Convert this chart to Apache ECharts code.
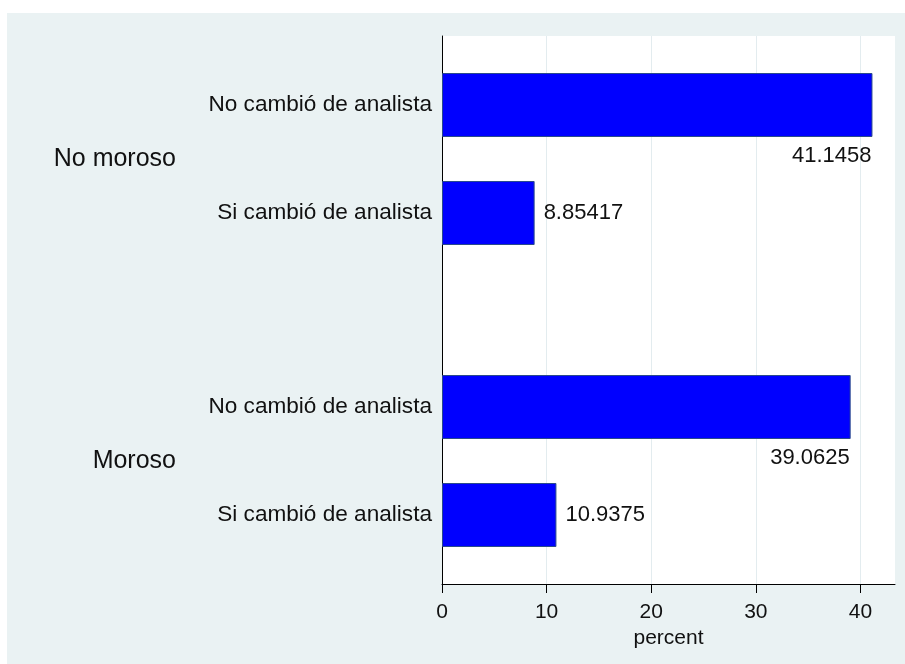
<!DOCTYPE html>
<html>
<head>
<meta charset="utf-8">
<title>percent por grupo</title>
<script src="https://cdn.jsdelivr.net/npm/echarts@6/dist/echarts.min.js"></script>
<style>
  html, body { margin: 0; padding: 0; background: #fff; }
  #chart { width: 905px; height: 664px; }
</style>
</head>
<body>
<div id="chart"></div>
<script>
// datos
var groups = ['No moroso', 'Moroso'];
var categories = ['No cambió de analista', 'Si cambió de analista'];
var noMoroso = [41.1458, 8.85417];
var moroso = [39.0625, 10.9375];
var xTicks = [0, 10, 20, 30, 40];

var font = 'Liberation Sans, Arial, Helvetica, sans-serif';
var xMax = 43.3;
var groupValues = [noMoroso, moroso];
var groupTops = [51, 353];

// etiqueta a la derecha, o debajo si no cabe
function barData(values) {
    return values.map(function (v) {
        var item = { value: v };
        if (v > 35) {
            item.label = {
                position: ['100%', '100%'],
                align: 'right',
                verticalAlign: 'top',
                offset: [-1, 8]
            };
        }
        return item;
    });
}

var grids = [{
    left: 442, top: 36, right: 10, bottom: 80,
    show: true, backgroundColor: '#fff', borderWidth: 0
}];
var xAxes = [{
    gridIndex: 0, type: 'value', min: 0, max: xMax,
    axisLine: { show: true, onZero: false, lineStyle: { color: '#000', width: 1 } },
    axisTick: { show: true, length: 9, customValues: xTicks, lineStyle: { color: '#000' } },
    axisLabel: { customValues: xTicks, color: '#111', fontSize: 21, fontFamily: font, margin: 18 },
    splitLine: { show: true, lineStyle: { color: '#E3ECEF', width: 1 } },
    name: 'percent', nameLocation: 'middle', nameGap: 37,
    nameTextStyle: { color: '#111', fontSize: 21, fontFamily: font }
}];
var yAxes = [{
    gridIndex: 0, type: 'value', min: 0, max: 1,
    axisLine: { show: true, lineStyle: { color: '#000', width: 1 } },
    axisTick: { show: false }, axisLabel: { show: false }, splitLine: { show: false }
}];
var series = [];

groups.forEach(function (g, i) {
    var gi = i + 1;
    grids.push({ left: 442, top: groupTops[i], right: 10, height: 216 });
    xAxes.push({ gridIndex: gi, type: 'value', min: 0, max: xMax, show: false });
    yAxes.push({
        gridIndex: gi, type: 'category', inverse: true, data: categories,
        axisLine: { show: false }, axisTick: { show: false }, splitLine: { show: false },
        axisLabel: { color: '#111', fontSize: 22.6, fontFamily: font, margin: 10 },
        name: g, nameLocation: 'middle', nameRotate: 0, nameGap: 266,
        nameTextStyle: { color: '#111', fontSize: 25, fontFamily: font, align: 'right' }
    });
    series.push({
        type: 'bar', xAxisIndex: gi, yAxisIndex: gi,
        barWidth: 64,
        data: barData(groupValues[i]),
        itemStyle: { color: '#0000FF', borderColor: '#2A4A8C', borderWidth: 1 },
        label: {
            show: true, position: 'right', distance: 9,
            color: '#111', fontSize: 22, fontFamily: font,
            formatter: function (p) { return String(p.value); }
        },
        silent: true
    });
});

var myChart = echarts.init(document.getElementById('chart'));
var option = {
    backgroundColor: '#fff',
    animation: false,
    graphic: [{
        type: 'rect', z: -10, silent: true,
        shape: { x: 7, y: 13, width: 898, height: 651 },
        style: { fill: '#EAF2F3' }
    }],
    grid: grids,
    xAxis: xAxes,
    yAxis: yAxes,
    series: series
};
myChart.setOption(option, true);
</script>
</body>
</html>
